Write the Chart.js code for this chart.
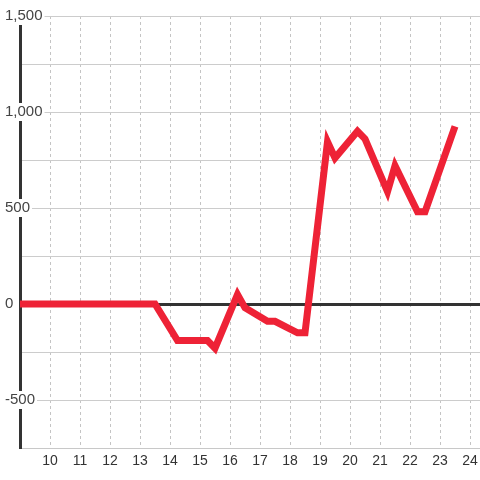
<!DOCTYPE html>
<html>
<head>
<meta charset="utf-8">
<script src="https://cdn.jsdelivr.net/npm/chart.js@4/dist/chart.umd.min.js"></script>
<style>
  html, body { margin: 0; padding: 0; background: #fff; }
  #wrap { width: 480px; height: 480px; }
</style>
</head>
<body>
<div id="wrap"><canvas id="chart"></canvas></div>
<script>
// hour of day and value at that time
const hours = [9, 13.5, 14.25, 15.25, 15.5, 16.25, 16.5, 17.25, 17.5, 18.25, 18.5, 19.25, 19.5, 20.25, 20.5, 21.25, 21.5, 22.25, 22.5, 23.5];
const values = [0, 0, -190, -190, -230, 50, -20, -90, -90, -150, -150, 845, 760, 900, 860, 585, 720, 480, 480, 925];
const yTicks = [-750, -500, -250, 0, 250, 500, 750, 1000, 1250, 1500];

const points = hours.map((h, i) => ({ x: h, y: values[i] }));

const fmt = v => v.toLocaleString('en-US');

new Chart(document.getElementById('chart'), {
    type: 'line',
    data: {
        datasets: [{
            data: points,
            borderColor: '#ee2236',
            borderWidth: 7,
            pointRadius: 0,
            tension: 0,
            fill: false
        }]
    },
    options: {
        responsive: true,
        maintainAspectRatio: false,
        animation: false,
        layout: { padding: { top: 16, right: 0, left: 0, bottom: 0 } },
        plugins: { legend: { display: false }, tooltip: { enabled: false } },
        scales: {
            x: {
                type: 'linear',
                min: 9,
                max: 24.333,
                afterFit: s => {
                    s.height = 32;
                    s.paddingRight = 0;
                    s.paddingLeft = 0;
                },
                ticks: {
                    stepSize: 1,
                    includeBounds: false,
                    padding: 5,
                    color: '#333',
                    font: { family: 'Liberation Sans', size: 14 },
                    callback: v => v === 9 ? '' : v
                },
                grid: {
                    drawTicks: false,
                    color: ctx => ctx.tick && ctx.tick.value === 9 ? 'transparent' : '#c4c4c4',
                    lineWidth: 1
                },
                border: { display: true, color: '#c8c8c8', width: 1, dash: [3, 3] }
            },
            y: {
                type: 'linear',
                min: -750,
                max: 1500,
                afterFit: s => { s.width = 20; },
                afterBuildTicks: s => { s.ticks = yTicks.map(v => ({ value: v })); },
                ticks: {
                    mirror: true,
                    crossAlign: 'near',
                    padding: -15,
                    color: '#444',
                    font: { family: 'Liberation Sans', size: 15 },
                    callback: v => v % 500 === 0 ? fmt(v) : '',
                    showLabelBackdrop: true,
                    backdropColor: ctx => ctx.tick.value % 500 === 0 ? '#fff' : 'rgba(0,0,0,0)',
                    backdropPadding: { left: 2, right: 2, top: 0, bottom: 0 }
                },
                grid: {
                    drawTicks: false,
                    color: ctx => ctx.tick && ctx.tick.value === 0 ? '#333' : '#cccccc',
                    lineWidth: ctx => ctx.tick && ctx.tick.value === 0 ? 3 : 1
                },
                border: { display: true, color: '#333', width: 3 }
            }
        }
    }
});
</script>
</body>
</html>
